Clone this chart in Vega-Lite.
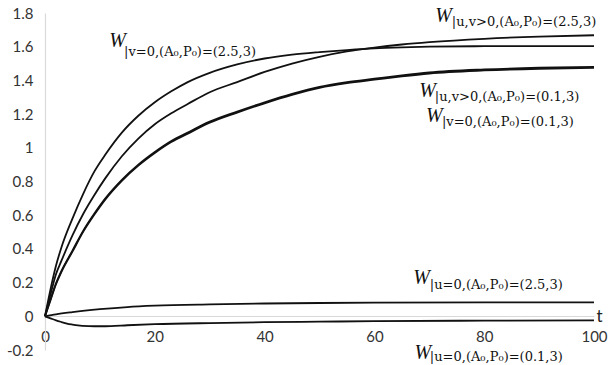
{
  "$schema": "https://vega.github.io/schema/vega-lite/v6.json",
  "width": 549,
  "height": 337,
  "autosize": "none",
  "padding": {"left": 45, "top": 13, "right": 17, "bottom": 15},
  "background": "white",
  "config": {"view": {"stroke": null}, "font": "Lato"},
  "resolve": {"axis": {"x": "independent", "y": "independent"}},
  "datasets": {
    "curves": [
      {"s": "A", "t": 0, "w": 0}, {"s": "A", "t": 1, "w": 0.16}, {"s": "A", "t": 2, "w": 0.3}, {"s": "A", "t": 3, "w": 0.41}, {"s": "A", "t": 5, "w": 0.58}, {"s": "A", "t": 7, "w": 0.73}, {"s": "A", "t": 9, "w": 0.86}, {"s": "A", "t": 11, "w": 0.96}, {"s": "A", "t": 14, "w": 1.09}, {"s": "A", "t": 17, "w": 1.19}, {"s": "A", "t": 20, "w": 1.27}, {"s": "A", "t": 23, "w": 1.335}, {"s": "A", "t": 26, "w": 1.39}, {"s": "A", "t": 30, "w": 1.445}, {"s": "A", "t": 35, "w": 1.495}, {"s": "A", "t": 40, "w": 1.53}, {"s": "A", "t": 45, "w": 1.553}, {"s": "A", "t": 50, "w": 1.568}, {"s": "A", "t": 55, "w": 1.58}, {"s": "A", "t": 60, "w": 1.59}, {"s": "A", "t": 65, "w": 1.596}, {"s": "A", "t": 70, "w": 1.6}, {"s": "A", "t": 80, "w": 1.603}, {"s": "A", "t": 90, "w": 1.604}, {"s": "A", "t": 100, "w": 1.604},
      {"s": "B", "t": 0, "w": 0}, {"s": "B", "t": 1, "w": 0.13}, {"s": "B", "t": 2, "w": 0.25}, {"s": "B", "t": 3, "w": 0.33}, {"s": "B", "t": 5, "w": 0.48}, {"s": "B", "t": 7, "w": 0.61}, {"s": "B", "t": 9, "w": 0.72}, {"s": "B", "t": 11, "w": 0.82}, {"s": "B", "t": 14, "w": 0.95}, {"s": "B", "t": 17, "w": 1.055}, {"s": "B", "t": 20, "w": 1.14}, {"s": "B", "t": 23, "w": 1.205}, {"s": "B", "t": 26, "w": 1.26}, {"s": "B", "t": 30, "w": 1.33}, {"s": "B", "t": 35, "w": 1.39}, {"s": "B", "t": 40, "w": 1.45}, {"s": "B", "t": 45, "w": 1.5}, {"s": "B", "t": 50, "w": 1.54}, {"s": "B", "t": 55, "w": 1.572}, {"s": "B", "t": 60, "w": 1.595}, {"s": "B", "t": 65, "w": 1.613}, {"s": "B", "t": 70, "w": 1.627}, {"s": "B", "t": 80, "w": 1.647}, {"s": "B", "t": 90, "w": 1.66}, {"s": "B", "t": 100, "w": 1.668},
      {"s": "C", "t": 0, "w": 0}, {"s": "C", "t": 1, "w": 0.1}, {"s": "C", "t": 2, "w": 0.195}, {"s": "C", "t": 3, "w": 0.27}, {"s": "C", "t": 5, "w": 0.39}, {"s": "C", "t": 7, "w": 0.51}, {"s": "C", "t": 9, "w": 0.61}, {"s": "C", "t": 11, "w": 0.7}, {"s": "C", "t": 14, "w": 0.81}, {"s": "C", "t": 17, "w": 0.9}, {"s": "C", "t": 20, "w": 0.975}, {"s": "C", "t": 23, "w": 1.04}, {"s": "C", "t": 26, "w": 1.09}, {"s": "C", "t": 30, "w": 1.155}, {"s": "C", "t": 35, "w": 1.215}, {"s": "C", "t": 40, "w": 1.27}, {"s": "C", "t": 45, "w": 1.32}, {"s": "C", "t": 50, "w": 1.362}, {"s": "C", "t": 55, "w": 1.39}, {"s": "C", "t": 60, "w": 1.41}, {"s": "C", "t": 65, "w": 1.43}, {"s": "C", "t": 70, "w": 1.447}, {"s": "C", "t": 80, "w": 1.465}, {"s": "C", "t": 90, "w": 1.475}, {"s": "C", "t": 100, "w": 1.48},
      {"s": "C2", "t": 0, "w": 0}, {"s": "C2", "t": 1, "w": 0.095}, {"s": "C2", "t": 2, "w": 0.19}, {"s": "C2", "t": 3, "w": 0.264}, {"s": "C2", "t": 5, "w": 0.384}, {"s": "C2", "t": 7, "w": 0.504}, {"s": "C2", "t": 9, "w": 0.604}, {"s": "C2", "t": 11, "w": 0.694}, {"s": "C2", "t": 14, "w": 0.804}, {"s": "C2", "t": 17, "w": 0.894}, {"s": "C2", "t": 20, "w": 0.969}, {"s": "C2", "t": 23, "w": 1.034}, {"s": "C2", "t": 26, "w": 1.084}, {"s": "C2", "t": 30, "w": 1.149}, {"s": "C2", "t": 35, "w": 1.209}, {"s": "C2", "t": 40, "w": 1.264}, {"s": "C2", "t": 45, "w": 1.314}, {"s": "C2", "t": 50, "w": 1.356}, {"s": "C2", "t": 55, "w": 1.384}, {"s": "C2", "t": 60, "w": 1.404}, {"s": "C2", "t": 65, "w": 1.424}, {"s": "C2", "t": 70, "w": 1.441}, {"s": "C2", "t": 80, "w": 1.459}, {"s": "C2", "t": 90, "w": 1.469}, {"s": "C2", "t": 100, "w": 1.474},
      {"s": "D", "t": 0, "w": 0}, {"s": "D", "t": 2, "w": 0.012}, {"s": "D", "t": 5, "w": 0.025}, {"s": "D", "t": 10, "w": 0.042}, {"s": "D", "t": 15, "w": 0.055}, {"s": "D", "t": 20, "w": 0.063}, {"s": "D", "t": 30, "w": 0.071}, {"s": "D", "t": 40, "w": 0.076}, {"s": "D", "t": 50, "w": 0.079}, {"s": "D", "t": 60, "w": 0.081}, {"s": "D", "t": 80, "w": 0.083}, {"s": "D", "t": 100, "w": 0.083},
      {"s": "E", "t": 0, "w": 0}, {"s": "E", "t": 1, "w": -0.012}, {"s": "E", "t": 2, "w": -0.024}, {"s": "E", "t": 3, "w": -0.034}, {"s": "E", "t": 4, "w": -0.043}, {"s": "E", "t": 5, "w": -0.049}, {"s": "E", "t": 6, "w": -0.054}, {"s": "E", "t": 8, "w": -0.058}, {"s": "E", "t": 10, "w": -0.059}, {"s": "E", "t": 12, "w": -0.058}, {"s": "E", "t": 15, "w": -0.053}, {"s": "E", "t": 20, "w": -0.047}, {"s": "E", "t": 30, "w": -0.04}, {"s": "E", "t": 40, "w": -0.035}, {"s": "E", "t": 50, "w": -0.032}, {"s": "E", "t": 60, "w": -0.029}, {"s": "E", "t": 80, "w": -0.026}, {"s": "E", "t": 100, "w": -0.024}
    ],
    "labels": [
      {"wt": 13.2, "wy": 1.632, "st": 14.4, "sy": 1.567, "sub": "|v=0,(A₀,P₀)=(2.5,3)"},
      {"wt": 72.6, "wy": 1.78, "st": 74.1, "sy": 1.747, "sub": "|u,v>0,(A₀,P₀)=(2.5,3)"},
      {"wt": 69.7, "wy": 1.335, "st": 71.0, "sy": 1.3, "sub": "|u,v>0,(A₀,P₀)=(0.1,3)"},
      {"wt": 70.9, "wy": 1.187, "st": 72.3, "sy": 1.154, "sub": "|v=0,(A₀,P₀)=(0.1,3)"},
      {"wt": 68.6, "wy": 0.228, "st": 70.1, "sy": 0.184, "sub": "|u=0,(A₀,P₀)=(2.5,3)"},
      {"wt": 68.8, "wy": -0.217, "st": 70.1, "sy": -0.24, "sub": "|u=0,(A₀,P₀)=(0.1,3)"}
    ]
  },
  "layer": [
    {
      "data": {"name": "curves"},
      "mark": {"type": "line", "interpolate": "monotone", "color": "#111111", "strokeWidth": 1.8},
      "encoding": {
        "x": {
          "field": "t", "type": "quantitative",
          "scale": {"domain": [0, 100], "nice": false},
          "axis": {
            "values": [0, 20, 40, 60, 80, 100],
            "offset": -34,
            "ticks": false,
            "grid": false,
            "labelOverlap": false,
            "labelFlush": false,
            "domainColor": "#d9d9d9",
            "domainWidth": 1.2,
            "labelFont": "Lato",
            "labelFontSize": 15,
            "labelColor": "#333333",
            "labelPadding": 13,
            "title": "t",
            "titleFont": "Lato",
            "titleFontSize": 17,
            "titleFontWeight": "normal",
            "titleColor": "#222222",
            "titleX": 551,
            "titleY": 0,
            "titleAlign": "left",
            "titleBaseline": "middle",
            "titleAngle": 0
          }
        },
        "y": {
          "field": "w", "type": "quantitative",
          "scale": {"domain": [-0.2, 1.8], "nice": false, "zero": false},
          "axis": {
            "values": [-0.2, 0, 0.2, 0.4, 0.6, 0.8, 1, 1.2, 1.4, 1.6, 1.8],
            "labelExpr": "datum.value < -0.1 ? '-0.2' : format(datum.value, '.1~f')",
            "labelOverlap": false,
            "labelFlush": false,
            "ticks": false,
            "grid": false,
            "domainColor": "#d9d9d9",
            "domainWidth": 1.2,
            "labelFont": "Lato",
            "labelFontSize": 15,
            "labelColor": "#333333",
            "labelPadding": 12,
            "title": null
          }
        },
        "detail": {"field": "s"}
      }
    },
    {
      "data": {"name": "labels"},
      "mark": {"type": "text", "font": "Liberation Serif", "fontStyle": "italic", "fontSize": 20, "align": "center", "baseline": "middle", "color": "#111111"},
      "encoding": {
        "x": {"field": "wt", "type": "quantitative", "axis": null},
        "y": {"field": "wy", "type": "quantitative", "axis": null},
        "text": {"value": "W"}
      }
    },
    {
      "data": {"name": "labels"},
      "mark": {"type": "text", "font": "DejaVu Serif", "fontSize": 13, "align": "left", "baseline": "middle", "color": "#111111"},
      "encoding": {
        "x": {"field": "st", "type": "quantitative", "axis": null},
        "y": {"field": "sy", "type": "quantitative", "axis": null},
        "text": {"field": "sub"}
      }
    }
  ]
}
